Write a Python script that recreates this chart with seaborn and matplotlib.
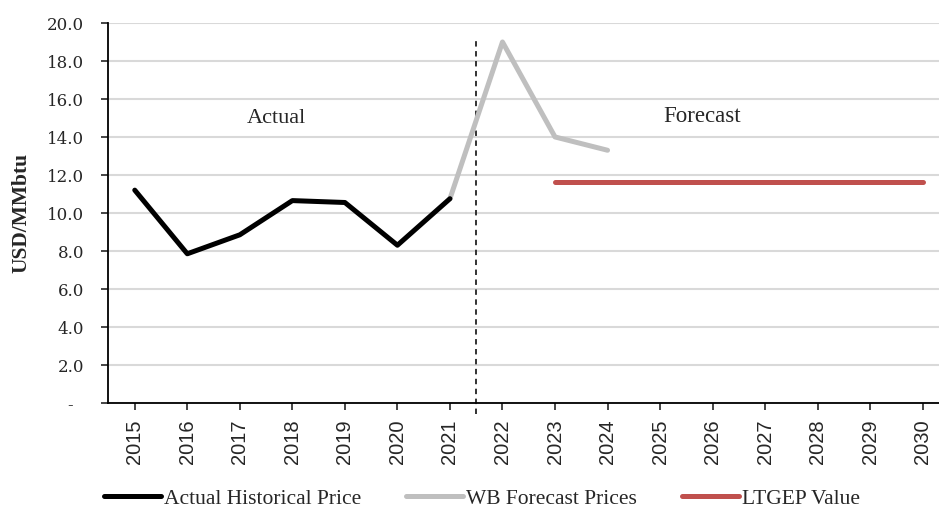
import matplotlib
matplotlib.use("Agg")
import matplotlib.pyplot as plt
import seaborn as sns
import pandas as pd
import numpy as np
from matplotlib.ticker import FuncFormatter

years = list(range(2015, 2031))
actual_years = [2015, 2016, 2017, 2018, 2019, 2020, 2021]
actual_vals = [11.2, 7.85, 8.85, 10.65, 10.55, 8.3, 10.75]
wb_years = [2021, 2022, 2023, 2024]
wb_vals = [10.75, 19.0, 14.0, 13.3]
lt_years = [2023, 2024, 2025, 2026, 2027, 2028, 2029, 2030]
lt_vals = [11.65] * 8

sns.set_theme(style="white")
plt.rcParams['font.family'] = ['Liberation Serif', 'DejaVu Serif']

fig = plt.figure(figsize=(9.39, 5.10), dpi=100)
ax = fig.add_axes([0.115, 0.208, 0.885, 0.745])

idx = {y: i for i, y in enumerate(years)}
df_a = pd.DataFrame({"x": [idx[y] for y in actual_years], "y": actual_vals})
df_w = pd.DataFrame({"x": [idx[y] for y in wb_years], "y": wb_vals})
df_l = pd.DataFrame({"x": [idx[y] for y in lt_years], "y": lt_vals})

sns.lineplot(data=df_w, x="x", y="y", ax=ax, color="#bfbfbf", lw=3.6,
             label="WB Forecast Prices", solid_capstyle="round", zorder=3)
sns.lineplot(data=df_a, x="x", y="y", ax=ax, color="#000000", lw=3.6,
             label="Actual Historical Price", solid_capstyle="round", zorder=4)
sns.lineplot(data=df_l, x="x", y="y", ax=ax, color="#c0504d", lw=3.6,
             label="LTGEP Value", solid_capstyle="round", zorder=3)

ax.axvline(6.5, ymin=-0.03, ymax=0.958, color="#222222", lw=1.3,
           ls=(0, (3, 2.5)), zorder=2, clip_on=False)

ax.text(2.7, 15.05, "Actual", fontsize=16, ha="center", va="center")
ax.text(10.8, 15.15, "Forecast", fontsize=16.5, ha="center", va="center")

ax.set_xlim(-0.51, 15.31)
ax.set_ylim(0, 20)
ax.set_yticks(np.arange(0, 20.1, 2))
ax.yaxis.set_major_formatter(FuncFormatter(
    lambda v, p: "-\u00a0\u00a0" if abs(v) < 1e-9 else f"{v:.1f}"))
ax.set_xticks(range(len(years)))
ax.set_xticklabels([str(y) for y in years], rotation=90, fontsize=14.5,
                   family=["Liberation Sans", "DejaVu Sans"])
ax.tick_params(axis="y", labelsize=12, length=5, width=1.2, direction="out", left=True,
               pad=12, labelfontfamily="DejaVu Serif")
ax.tick_params(axis="x", length=5, width=1.2, direction="out", bottom=True, pad=6)
ax.grid(axis="y", color="#d9d9d9", lw=1.5)
ax.set_axisbelow(True)
for s in ["top", "right"]:
    ax.spines[s].set_visible(False)
for s in ["left", "bottom"]:
    ax.spines[s].set_color("black")
    ax.spines[s].set_linewidth(1.3)
ax.set_xlabel("")
ax.set_ylabel("USD/MMbtu", fontsize=15.5, fontweight="bold")
ax.yaxis.set_label_coords(31 / 939, 1 - 213 / 510, transform=fig.transFigure)

h, l = ax.get_legend_handles_labels()
order = [1, 0, 2]
ax.legend([h[i] for i in order], [l[i] for i in order], loc="center",
          bbox_to_anchor=(482 / 939, 1 - 499 / 510), bbox_transform=fig.transFigure, ncol=3,
          frameon=False, fontsize=15.5, handlelength=2.65, handletextpad=0.12,
          columnspacing=2.1, borderaxespad=0.0, borderpad=0.0)

fig.savefig("out.png", dpi=100)
